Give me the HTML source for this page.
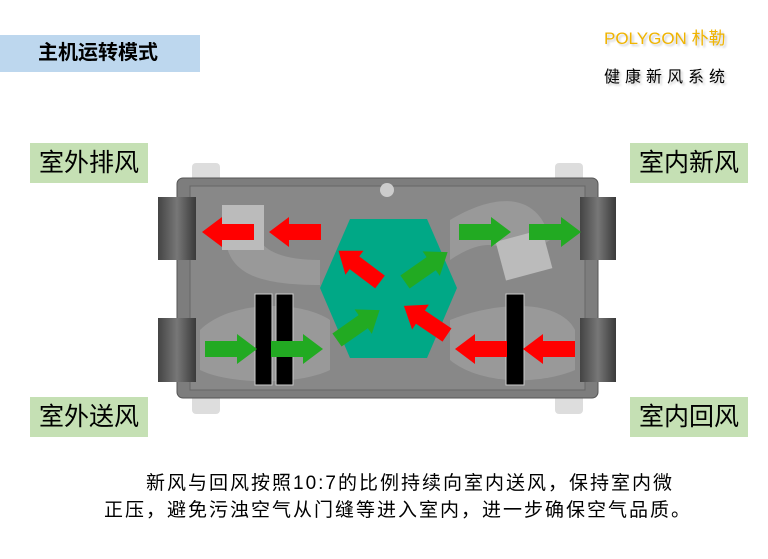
<!DOCTYPE html>
<html><head><meta charset="utf-8"><style>
body{margin:0;width:768px;height:559px;background:#fff;position:relative;overflow:hidden;font-family:"Liberation Sans","Noto Sans CJK SC",sans-serif}
.t{position:absolute;left:0;top:35px;width:200px;height:37px;background:#bdd7ee;font-weight:bold;font-size:20px;line-height:37px;text-indent:38px}
.lb{position:absolute;width:118px;height:40px;background:#c5e0b4;font-size:25px;line-height:40px;text-align:center}
.p{position:absolute;font-size:19px;letter-spacing:2px;white-space:nowrap}
</style></head><body>
<div class="t">主机运转模式</div>
<div class="p" style="left:604px;top:24px;color:#f0b400;font-size:17px;letter-spacing:0;text-shadow:2px 2px 2px #ccc">POLYGON 朴勒</div>
<div class="p" style="left:604px;top:63px;font-size:16px;letter-spacing:5px;text-shadow:2px 2px 2px #ccc">健康新风系统</div>
<div class="lb" style="left:30px;top:143px">室外排风</div>
<div class="lb" style="left:630px;top:143px">室内新风</div>
<div class="lb" style="left:30px;top:397px">室外送风</div>
<div class="lb" style="left:630px;top:397px">室内回风</div>
<svg style="position:absolute;left:0;top:0" width="768" height="559">
<defs><linearGradient id="d" x1="0" x2="1"><stop offset="0" stop-color="#444"/><stop offset=".5" stop-color="#777"/><stop offset="1" stop-color="#3a3a3a"/></linearGradient>
<g id="a"><polygon points="0,-8 32,-8 32,-15 52,0 32,15 32,8 0,8"/></g></defs>
<rect x="192" y="163" width="28" height="22" rx="4" fill="#ddd"/><rect x="555" y="163" width="28" height="22" rx="4" fill="#ddd"/>
<rect x="192" y="392" width="28" height="22" rx="4" fill="#ddd"/><rect x="555" y="392" width="28" height="22" rx="4" fill="#ddd"/>
<rect x="177" y="178" width="421" height="220" rx="6" fill="#7d7d7d" stroke="#555"/>
<rect x="190" y="186" width="395" height="204" fill="#888" stroke="#666"/>
<path d="M225,230 C225,270 250,285 320,285 L320,260 C280,260 260,250 255,230Z" fill="#999"/>
<path d="M200,330 C230,300 300,300 330,320 L330,370 C300,385 230,385 200,370Z" fill="#999"/>
<path d="M450,220 C500,190 540,195 550,240 L520,260 C500,240 480,240 450,260Z" fill="#999"/>
<path d="M450,320 C500,300 560,300 575,330 L575,370 C540,385 480,385 450,360Z" fill="#999"/>
<rect x="222" y="205" width="42" height="45" fill="#bbb"/>
<rect x="500" y="235" width="48" height="40" fill="#bbb" transform="rotate(-15 524 255)"/>
<circle cx="387" cy="190" r="7" fill="#ccc"/>
<rect x="158" y="197" width="38" height="63" fill="url(#d)"/><rect x="158" y="318" width="38" height="64" fill="url(#d)"/>
<rect x="580" y="197" width="36" height="63" fill="url(#d)"/><rect x="580" y="318" width="36" height="64" fill="url(#d)"/>
<polygon points="350,219 427,219 457,288 427,358 350,358 320,288" fill="#00a886"/>
<rect x="255" y="294" width="17" height="91" fill="#000" stroke="#ccc"/><rect x="276" y="294" width="17" height="91" fill="#000" stroke="#ccc"/>
<rect x="506" y="294" width="18" height="91" fill="#000" stroke="#ccc"/>
<g fill="#f00">
<use href="#a" transform="translate(321,232) scale(-1,1)"/>
<use href="#a" transform="translate(254,232) scale(-1,1)"/>
<use href="#a" transform="translate(575,349) scale(-1,1)"/>
<use href="#a" transform="translate(507,349) scale(-1,1)"/>
<use href="#a" transform="translate(380,282) rotate(-143)"/>
<use href="#a" transform="translate(447,335) rotate(-146)"/>
</g>
<g fill="#22aa22">
<use href="#a" transform="translate(459,232)"/>
<use href="#a" transform="translate(529,232)"/>
<use href="#a" transform="translate(205,349)"/>
<use href="#a" transform="translate(271,349)"/>
<use href="#a" transform="translate(405,282) rotate(-35)"/>
<use href="#a" transform="translate(337,340) rotate(-35)"/>
</g>
</svg>
<div class="p" style="left:146px;top:468px">新风与回风按照10:7的比例持续向室内送风，保持室内微</div>
<div class="p" style="left:104px;top:495px">正压，避免污浊空气从门缝等进入室内，进一步确保空气品质。</div>
</body></html>
